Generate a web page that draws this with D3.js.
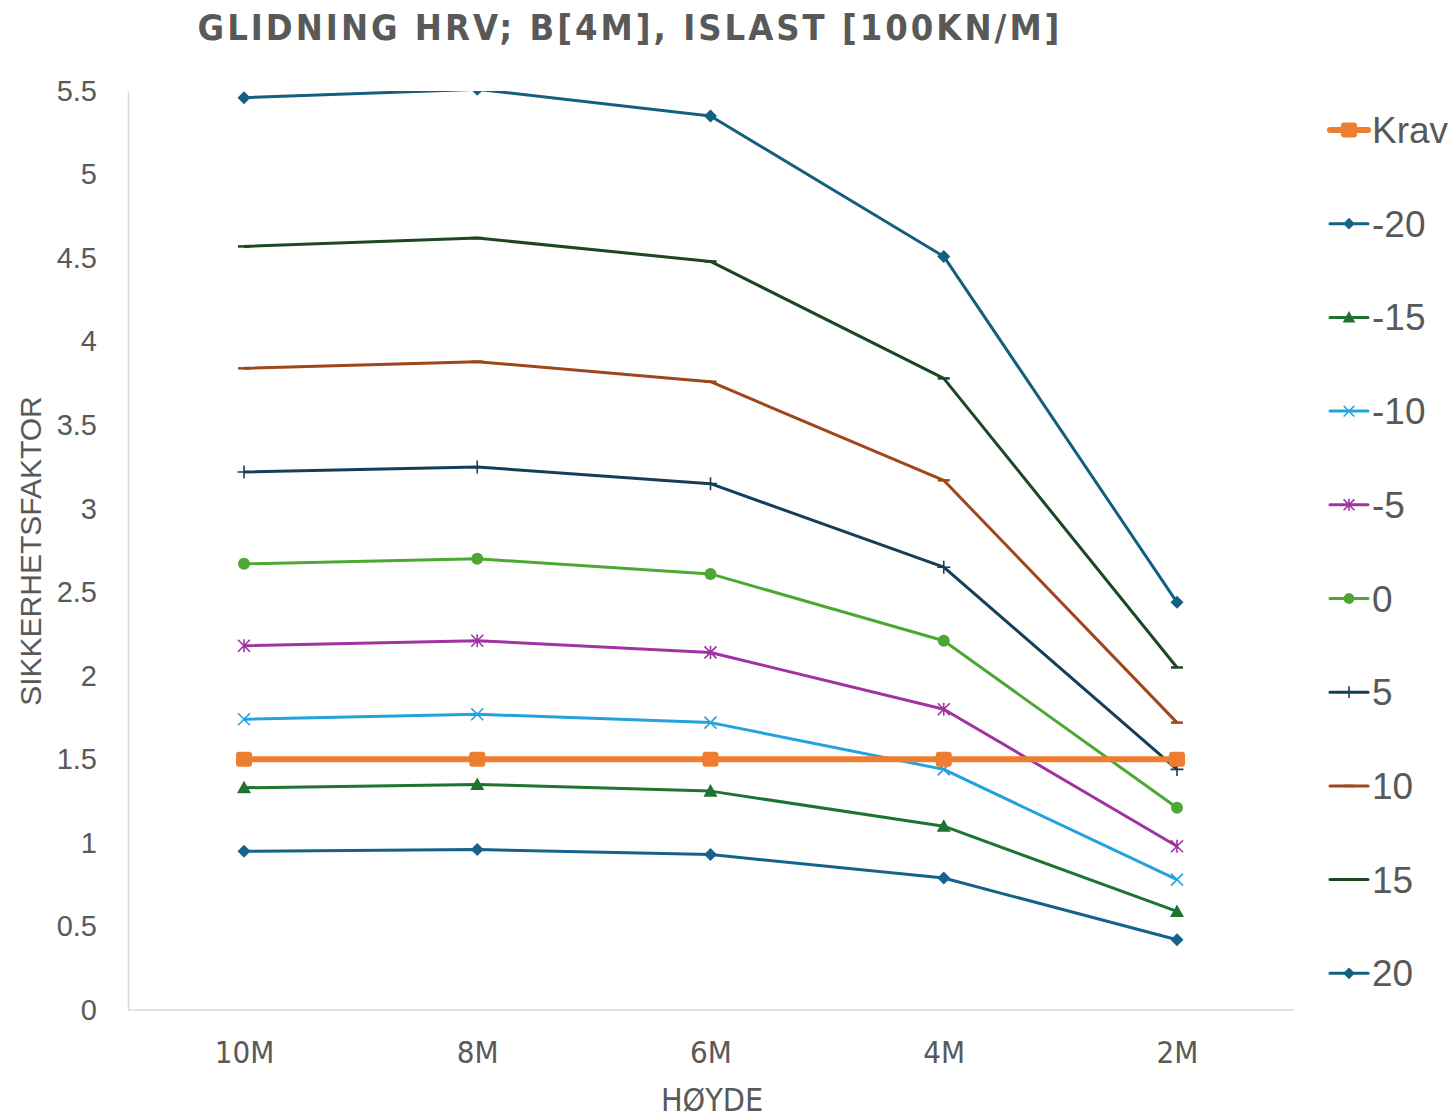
<!DOCTYPE html>
<html><head><meta charset="utf-8">
<script src="https://cdn.jsdelivr.net/npm/d3@7"></script>
<style>body{margin:0;background:#fff}svg{display:block}</style>
</head><body><div id="chart"></div>
<script>
const categories = ["10M","8M","6M","4M","2M"];
const seriesNames = ["Krav","-20","-15","-10","-5","0","5","10","15","20"];
const krav = [1.5,1.5,1.5,1.5,1.5];
const sM20 = [0.95,0.96,0.93,0.79,0.42];
const sM15 = [1.33,1.35,1.31,1.10,0.59];
const sM10 = [1.74,1.77,1.72,1.44,0.78];
const sM5  = [2.18,2.21,2.14,1.80,0.98];
const s0   = [2.67,2.70,2.61,2.21,1.21];
const s5   = [3.22,3.25,3.15,2.65,1.44];
const s10  = [3.84,3.88,3.76,3.17,1.72];
const s15  = [4.57,4.62,4.48,3.78,2.05];
const s20  = [5.46,5.51,5.35,4.51,2.44];
const yTicks = [0,0.5,1,1.5,2,2.5,3,3.5,4,4.5,5,5.5];

const seriesValues = [krav,sM20,sM15,sM10,sM5,s0,s5,s10,s15,s20];
const colors = ["#ed7d31","#17628a","#1e7330","#23a3dd","#a033a0","#4ca832","#163e58","#a0461b","#1c4722","#135f80"];
const markers = ["square","diamond","triangle","x","star","circle","plus","dash","dash","diamond"];

const W=1456,H=1118;
const m={left:128,right:1294,top:91,bottom:1010};
const svg=d3.select("#chart").append("svg").attr("width",W).attr("height",H);
const x=d3.scalePoint().domain(categories).range([244,1177]);
const y=d3.scaleLinear().domain([0,5.5]).range([m.bottom,m.top]);

svg.append("defs").append("clipPath").attr("id","clip")
  .append("rect").attr("x",m.left).attr("y",m.top).attr("width",m.right-m.left).attr("height",m.bottom-m.top);

// title
svg.append("text").attr("x",630).attr("y",40).attr("text-anchor","middle")
  .attr("font-family","DejaVu Sans").attr("font-stretch","condensed").attr("font-weight","bold")
  .attr("font-size",36).attr("letter-spacing",3).attr("fill","#595959")
  .text("GLIDNING HRV; B[4M], ISLAST [100KN/M]");

// axes
const yAxis=svg.append("g").attr("transform",`translate(${m.left},0)`)
  .call(d3.axisLeft(y).tickValues(yTicks).tickSize(0).tickPadding(31).tickFormat(d=>String(d)));
yAxis.select(".domain").attr("stroke","#d9d9d9").attr("stroke-width",1.5);
yAxis.selectAll("text").attr("font-family","Liberation Sans").attr("font-size",29).attr("fill","#595959");

const xAxis=svg.append("g").attr("transform",`translate(0,${m.bottom})`)
  .call(d3.axisBottom(x).tickSize(0).tickPadding(31));
xAxis.select(".domain").attr("d",`M${m.left},0H${m.right}`).attr("stroke","#d9d9d9").attr("stroke-width",1.5);
xAxis.selectAll("text").attr("font-family","DejaVu Sans").attr("font-stretch","condensed")
  .attr("font-size",31).attr("fill","#595959");

svg.append("text").attr("x",712).attr("y",1111).attr("text-anchor","middle")
  .attr("font-family","DejaVu Sans").attr("font-stretch","condensed")
  .attr("font-size",32).attr("fill","#595959").text("HØYDE");
svg.append("text").attr("transform","translate(41,551) rotate(-90)").attr("text-anchor","middle")
  .attr("font-family","Liberation Sans").attr("font-size",30).attr("fill","#595959").text("SIKKERHETSFAKTOR");

function drawMarker(g,type,cx,cy,col,scale){
  const s=scale||1;
  if(type==="square"){
    g.append("rect").attr("x",cx-8*s).attr("y",cy-7.5*s).attr("width",16*s).attr("height",15*s).attr("rx",3).attr("fill",col);
  } else if(type==="diamond"){
    const r=6.5*s;
    g.append("path").attr("d",`M${cx},${cy-r}L${cx+r},${cy}L${cx},${cy+r}L${cx-r},${cy}Z`).attr("fill",col);
  } else if(type==="triangle"){
    const r=7*s;
    g.append("path").attr("d",`M${cx},${cy-r}L${cx+r},${cy+r*0.8}L${cx-r},${cy+r*0.8}Z`).attr("fill",col);
  } else if(type==="x"){
    const r=6*s;
    g.append("path").attr("d",`M${cx-r},${cy-r}L${cx+r},${cy+r}M${cx+r},${cy-r}L${cx-r},${cy+r}`).attr("stroke",col).attr("stroke-width",1.6).attr("fill","none");
  } else if(type==="star"){
    const r=6*s;
    g.append("path").attr("d",`M${cx-r},${cy-r}L${cx+r},${cy+r}M${cx+r},${cy-r}L${cx-r},${cy+r}M${cx},${cy-r*1.1}L${cx},${cy+r*1.1}`).attr("stroke",col).attr("stroke-width",1.6).attr("fill","none");
  } else if(type==="circle"){
    g.append("circle").attr("cx",cx).attr("cy",cy).attr("r",6*s).attr("fill",col);
  } else if(type==="plus"){
    const r=6.5*s;
    g.append("path").attr("d",`M${cx-r},${cy}L${cx+r},${cy}M${cx},${cy-r}L${cx},${cy+r}`).attr("stroke",col).attr("stroke-width",1.6).attr("fill","none");
  } else if(type==="dash"){
    const r=6*s;
    g.append("path").attr("d",`M${cx-r},${cy}L${cx+r},${cy}`).attr("stroke",col).attr("stroke-width",2.5).attr("fill","none");
  }
}

const line=d3.line().x((d,i)=>x(categories[i])).y(d=>y(d));
const plot=svg.append("g").attr("clip-path","url(#clip)");
const order=[9,8,7,6,5,4,3,2,1,0];
order.forEach(k=>{
  const g=plot.append("g");
  g.append("path").datum(seriesValues[k]).attr("d",line).attr("fill","none")
    .attr("stroke",colors[k]).attr("stroke-width",k===0?6:3).attr("stroke-linejoin","round");
  seriesValues[k].forEach((v,i)=>drawMarker(g,markers[k],x(categories[i]),y(v),colors[k]));
});

// legend
const lg=svg.append("g");
seriesNames.forEach((n,i)=>{
  const cy=130+i*93.7;
  lg.append("line").attr("x1",1330).attr("x2",1368).attr("y1",cy).attr("y2",cy)
    .attr("stroke",colors[i]).attr("stroke-width",i===0?6:3).attr("stroke-linecap","round");
  drawMarker(lg,markers[i],1349,cy,colors[i],i===0?1:0.9);
  lg.append("text").attr("x",1372).attr("y",cy+13).attr("font-family","Liberation Sans")
    .attr("font-size",37).attr("fill","#595959").text(n);
});
</script></body></html>
